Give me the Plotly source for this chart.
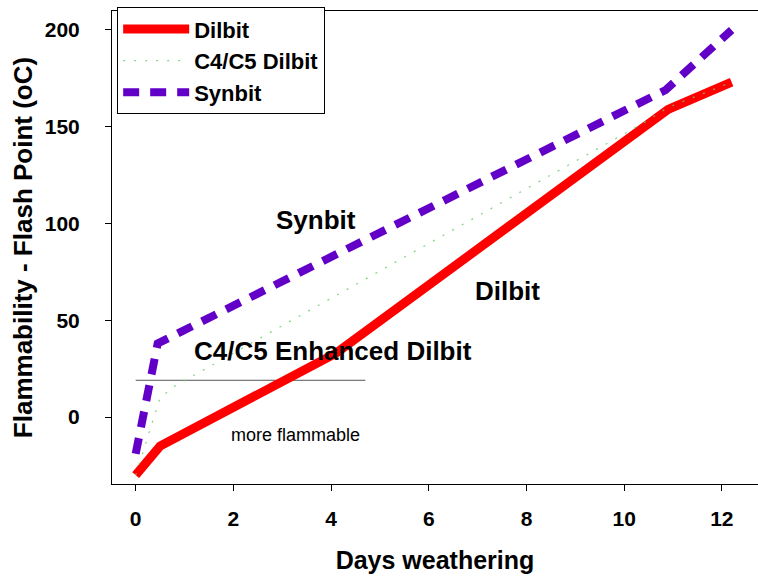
import plotly.graph_objects as go

# ---- data ----
dilbit_days = [0, 0.5, 4.1, 10.9, 12.2]
dilbit_fp = [-30, -15, 33, 159, 173]

c4c5_days = [0, 0.5, 0.8, 10.4, 10.9, 12.2]
c4c5_fp = [-30, 10, 16, 152, 160, 173]

synbit_days = [0, 0.45, 10.85, 12.2]
synbit_fp = [-19, 38, 169, 200]

threshold_days = [0, 4.7]
threshold_fp = [19, 19]

x_ticks = [0, 2, 4, 6, 8, 10, 12]
y_ticks = [0, 50, 100, 150, 200]

labels = ["Synbit", "Dilbit", "C4/C5 Enhanced Dilbit", "more flammable"]
label_x = [3.69, 7.62, 4.04, 3.28]
label_y = [102, 65, 34, -9.3]
label_bold = [True, True, True, False]

FONT = "Arial, 'Liberation Sans', sans-serif"

fig = go.Figure()

fig.add_trace(go.Scatter(
    x=threshold_days, y=threshold_fp, mode="lines",
    line=dict(color="#555555", width=1), showlegend=False, hoverinfo="skip"))

fig.add_trace(go.Scatter(
    x=dilbit_days, y=dilbit_fp, mode="lines", name="Dilbit",
    line=dict(color="#ff0000", width=9)))

fig.add_trace(go.Scatter(
    x=c4c5_days, y=c4c5_fp, mode="lines", name="C4/C5 Dilbit",
    line=dict(color="rgba(110,200,110,0.8)", width=1.3, dash="2px,9px")))

fig.add_trace(go.Scatter(
    x=synbit_days, y=synbit_fp, mode="lines", name="Synbit",
    line=dict(color="#6200c8", width=8, dash="16px,11px")))

for t, x, y, b in zip(labels, label_x, label_y, label_bold):
    fig.add_annotation(
        x=x, y=y, text=t, showarrow=False, xanchor="center", yanchor="middle",
        font=dict(family=FONT, size=26 if b else 18, color="black",
                  weight="bold" if b else "normal"))

fig.update_layout(
    width=758, height=579,
    margin=dict(l=112, r=0, t=11, b=95),
    paper_bgcolor="white", plot_bgcolor="white",
    font=dict(family=FONT, color="black"),
    legend=dict(
        x=0.008, y=1.008, xanchor="left", yanchor="top",
        bgcolor="white", bordercolor="black", borderwidth=1,
        font=dict(family=FONT, size=22, color="black", weight="bold"),
        tracegroupgap=0, itemwidth=66,
    ),
)

fig.update_xaxes(
    range=[-0.485, 12.74], tickvals=x_ticks, ticks="outside", ticklen=6,
    tickcolor="black", showline=True, linecolor="black", linewidth=1,
    mirror=True, showgrid=False, zeroline=False,
    tickfont=dict(family=FONT, size=21, color="black", weight="bold"),
    ticklabelstandoff=10,
    title=dict(text="Days weathering", standoff=22,
               font=dict(family=FONT, size=25, color="black", weight="bold")),
)

fig.update_yaxes(
    range=[-34.6, 209.8], tickvals=y_ticks, ticks="outside", ticklen=6,
    tickcolor="black", showline=True, linecolor="black", linewidth=1,
    showgrid=False, zeroline=False,
    tickfont=dict(family=FONT, size=21, color="black", weight="bold"),
    ticklabelstandoff=21,
    title=dict(text="Flammability - Flash Point (oC)", standoff=4,
               font=dict(family=FONT, size=26, color="black", weight="bold")),
)

fig.write_html("out.html")
